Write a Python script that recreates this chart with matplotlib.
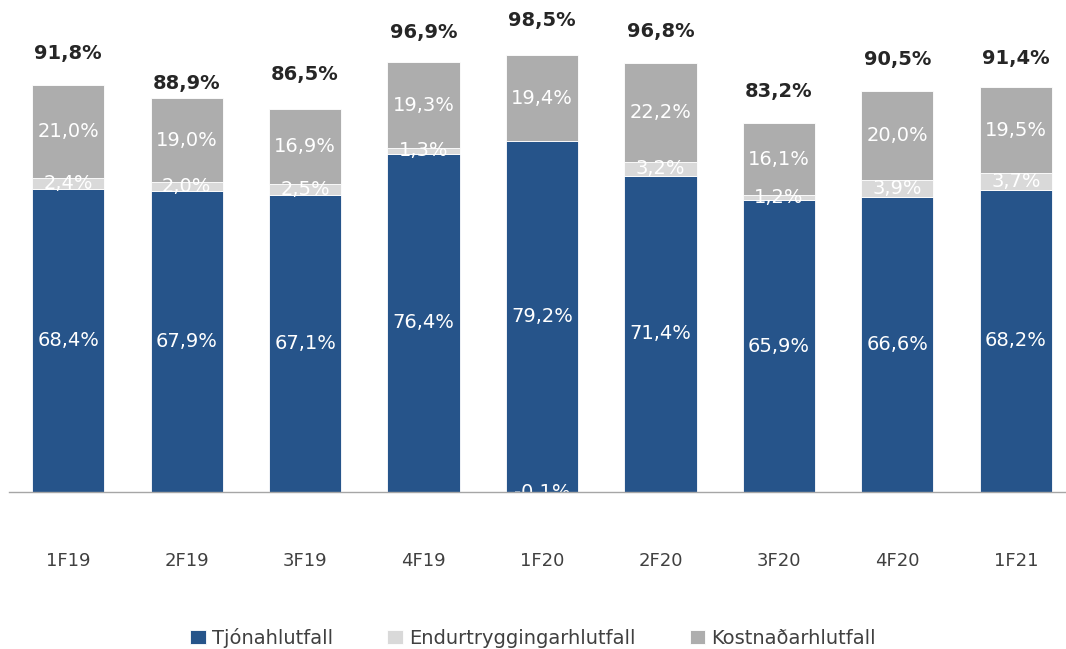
import matplotlib.pyplot as plt
import numpy as np

# gögn
categories = ["1F19", "2F19", "3F19", "4F19", "1F20", "2F20", "3F20", "4F20", "1F21"]
tjon = [68.4, 67.9, 67.1, 76.4, 79.2, 71.4, 65.9, 66.6, 68.2]
endurtr = [2.4, 2.0, 2.5, 1.3, -0.1, 3.2, 1.2, 3.9, 3.7]
kostn = [21.0, 19.0, 16.9, 19.3, 19.4, 22.2, 16.1, 20.0, 19.5]
totals = [91.8, 88.9, 86.5, 96.9, 98.5, 96.8, 83.2, 90.5, 91.4]
series_names = ["Tjónahlutfall", "Endurtryggingarhlutfall", "Kostnaðarhlutfall"]

C_BLUE = "#26548A"
C_LIGHT = "#D9D9D9"
C_GRAY = "#ADADAD"

# bil milli heildartölu og súlu (pixlar)
total_gap = [22, 5, 25, 20, 25, 22, 22, 22, 19]


def fmt(v):
    return f"{v:.1f}%".replace(".", ",")


fig = plt.figure(figsize=(10.66, 6.49), dpi=100)
ax = fig.add_axes([9 / 1066, 157 / 649, 1066 / 1066, 443 / 649])

x = np.arange(len(categories))
w = 0.61
tj = np.array(tjon)
en = np.array(endurtr)
ko = np.array(kostn)

# Excel-stöflun: neikvæð gildi fara niður frá núlli
en_bottom = np.where(en >= 0, tj, 0.0)
ko_bottom = tj + np.where(en >= 0, en, 0.0)

ax.bar(x, tj, w, color=C_BLUE, edgecolor="white", linewidth=0.6, label=series_names[0])
ax.bar(x, en, w, bottom=en_bottom, color=C_LIGHT, edgecolor="white", linewidth=0.6, label=series_names[1])
ax.bar(x, ko, w, bottom=ko_bottom, color=C_GRAY, edgecolor="white", linewidth=0.6, label=series_names[2])

for i in range(len(categories)):
    ax.text(x[i], tj[i] / 2, fmt(tj[i]), ha="center", va="center", color="white", fontsize=14)
    t = ax.text(x[i], en_bottom[i] + en[i] / 2, fmt(en[i]), ha="center", va="center",
                color="white", fontsize=14)
    t.set_clip_on(True)
    t.set_clip_path(ax.patch)
    ax.text(x[i], ko_bottom[i] + ko[i] / 2, fmt(ko[i]), ha="center", va="center", color="white", fontsize=14)
    top = ko_bottom[i] + ko[i]
    ax.annotate(fmt(totals[i]), (x[i], top), xytext=(0, total_gap[i] * 0.72),
                textcoords="offset points", ha="center", va="bottom",
                fontsize=14, fontweight="bold", color="#262626", annotation_clip=False)

ax.set_xlim(-0.5, 8.5)
ax.set_ylim(0, 100)
ax.set_xticks(x)
ax.set_xticklabels(categories, fontsize=13, color="#404040")
ax.tick_params(axis="x", length=0, pad=43)
ax.set_yticks([])
for s in ["top", "right", "left"]:
    ax.spines[s].set_visible(False)
ax.spines["bottom"].set_color("#A6A6A6")
ax.spines["bottom"].set_linewidth(1.0)
ax.spines["bottom"].set_zorder(5)

fig.legend(loc="lower center", bbox_to_anchor=(0.5, -0.025), ncol=3, frameon=False,
           fontsize=14, handlelength=0.8, handleheight=0.8, handletextpad=0.3,
           columnspacing=2.8, labelcolor="#404040")

plt.savefig("out.png", dpi=100)
